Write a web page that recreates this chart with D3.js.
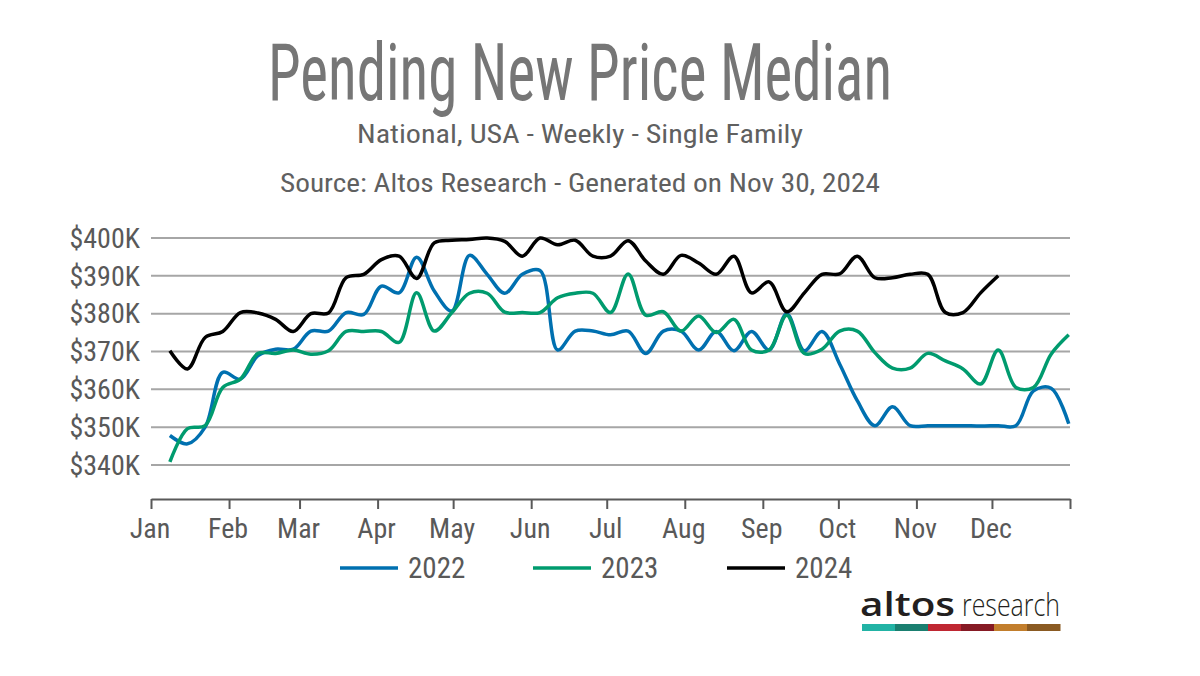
<!DOCTYPE html>
<html>
<head>
<meta charset="utf-8">
<script src="https://cdn.jsdelivr.net/npm/d3@7"></script>
<style>
  html, body { margin: 0; padding: 0; background: #fff; }
  svg { display: block; }
  .cond { font-family: "Liberation Sans Narrow", "Roboto Condensed", "DejaVu Sans Condensed", Roboto, sans-serif; font-stretch: condensed; }
</style>
</head>
<body>
<svg id="chart" width="1200" height="676"></svg>
<script>
// ---------- data ----------
const title = "Pending New Price Median";
const subtitle1 = "National, USA - Weekly - Single Family";
const subtitle2 = "Source: Altos Research - Generated on Nov 30, 2024";

const monthLabels = ["Jan","Feb","Mar","Apr","May","Jun","Jul","Aug","Sep","Oct","Nov","Dec"];
const monthStartDays = [0,31,59,90,120,151,181,212,243,273,304,334,365];

const yTicks = [340, 350, 360, 370, 380, 390, 400]; // $K

const seriesNames = ["2022", "2023", "2024"];
const seriesColors = ["#0070b0", "#009b6e", "#000000"];

// weekly values, $K (first week ~ Jan 8, then every 7 days)
const values2022 = [347.8,345.6,350.0,364.5,362.7,368.9,370.6,370.6,375.4,375.4,380.3,379.8,387.3,
  385.5,394.9,386.0,380.7,395.4,390.4,385.4,390.4,391.4,370.4,375.4,375.4,374.4,
  375.4,369.5,375.4,375.4,370.4,375.3,370.2,375.3,370.4,380.0,370.2,375.3,366.7,
  357.0,350.4,355.4,350.4,350.4,350.4,350.4,350.3,350.4,350.4,359.6,360.3,350.9];
const values2023 = [340.8,349.6,350.4,360.5,362.7,369.5,369.5,370.4,369.3,370.2,375.3,375.3,375.3,
  372.4,385.5,375.4,380.3,385.4,385.4,380.4,380.3,380.3,384.2,385.4,385.4,380.3,
  390.5,379.6,380.5,375.4,379.4,375.0,378.5,370.4,370.4,379.6,369.5,370.6,375.4,
  375.4,369.7,365.6,365.6,369.5,367.5,365.4,361.4,370.4,360.5,360.5,369.3,374.4];
const values2024 = [370.2,365.4,373.7,375.3,380.3,380.2,378.5,375.3,380.0,380.2,389.5,390.4,394.3,
  395.2,389.3,398.7,399.4,399.6,400.0,399.1,395.2,400.0,398.2,399.4,395.2,395.2,
  399.3,393.9,390.4,395.4,393.4,390.4,395.2,385.5,388.4,380.5,385.5,390.4,390.5,
  395.2,389.5,389.5,390.4,390.4,380.3,380.3,385.5,390.0];
const seriesValues = [values2022, values2023, values2024];

const firstWeekDay = 7.5;
const weekStep = 7;

const logoColors = ["#22b3a5", "#1a7f70", "#bf2732", "#861a24", "#c27e2c", "#8a5a22"];

// ---------- drawing ----------
const svg = d3.select("#chart");
const plotLeft = 151, plotRight = 1070, axisY = 499;

const x = d3.scaleLinear().domain([0, 365]).range([plotLeft, plotRight]);
const y = d3.scaleLinear().domain([340, 400]).range([465, 238]);

// Titles
svg.append("text").attr("class", "cond")
  .attr("x", 580).attr("y", 100).attr("text-anchor", "middle")
  .attr("font-size", 80).attr("fill", "#767676")
  .attr("textLength", 624).attr("lengthAdjust", "spacingAndGlyphs")
  .text(title);
svg.append("text").attr("class", "cond")
  .attr("x", 580).attr("y", 143).attr("text-anchor", "middle")
  .attr("font-size", 25).attr("fill", "#606060")
  .attr("textLength", 446).attr("lengthAdjust", "spacingAndGlyphs")
  .text(subtitle1);
svg.append("text").attr("class", "cond")
  .attr("x", 580).attr("y", 192).attr("text-anchor", "middle")
  .attr("font-size", 25).attr("fill", "#606060")
  .attr("textLength", 600).attr("lengthAdjust", "spacingAndGlyphs")
  .text(subtitle2);

// Gridlines
svg.append("g").selectAll("line").data(yTicks).join("line")
  .attr("x1", plotLeft).attr("x2", plotRight)
  .attr("y1", d => y(d)).attr("y2", d => y(d))
  .attr("stroke", "#a6a6a6").attr("stroke-width", 2);

// Y labels
svg.append("g").selectAll("text").data(yTicks).join("text")
  .attr("class", "cond")
  .attr("x", 140).attr("y", d => y(d)).attr("dy", "0.35em")
  .attr("text-anchor", "end").attr("font-size", 28).attr("fill", "#595959")
  .text(d => "$" + d + "K");

// X axis
const xAxis = d3.axisBottom(x).tickValues(monthStartDays).tickSize(10).tickSizeOuter(0).tickFormat("");
const gx = svg.append("g").attr("transform", `translate(0,${axisY})`).call(xAxis);
gx.select(".domain").attr("stroke", "#595959").attr("stroke-width", 2);
gx.selectAll(".tick line").attr("stroke", "#595959").attr("stroke-width", 2);

svg.append("g").selectAll("text").data(monthLabels).join("text")
  .attr("class", "cond")
  .attr("x", (d, i) => x(monthStartDays[i]) - 1).attr("y", 538)
  .attr("text-anchor", "middle").attr("font-size", 28).attr("fill", "#595959")
  .text(d => d);

// Lines
const line = d3.line()
  .x((d, i) => x(firstWeekDay + i * weekStep))
  .y(d => y(d))
  .curve(d3.curveCatmullRom.alpha(0.5));

svg.append("g").selectAll("path").data(seriesValues).join("path")
  .attr("d", d => line(d))
  .attr("fill", "none")
  .attr("stroke", (d, i) => seriesColors[i])
  .attr("stroke-width", 3.5)
  .attr("stroke-linejoin", "round")
  .attr("stroke-linecap", "butt");

// Legend
const legendX = [340, 533, 727];
const lg = svg.append("g").selectAll("g").data(seriesNames).join("g")
  .attr("transform", (d, i) => `translate(${legendX[i]},568)`);
lg.append("line").attr("x1", 0).attr("x2", 58).attr("y1", 0).attr("y2", 0)
  .attr("stroke", (d, i) => seriesColors[i]).attr("stroke-width", 3.5);
lg.append("text").attr("class", "cond")
  .attr("x", 68).attr("y", 0).attr("dy", "0.36em")
  .attr("font-size", 29).attr("fill", "#595959")
  .text(d => d);

// Logo
const logo = svg.append("g");
logo.append("text")
  .attr("x", 860).attr("y", 616)
  .attr("font-family", "'Open Sans', Lato, sans-serif").attr("font-weight", 600)
  .attr("font-size", 32).attr("fill", "#231f20")
  .attr("textLength", 95).attr("lengthAdjust", "spacingAndGlyphs")
  .text("altos");
logo.append("text")
  .attr("x", 962).attr("y", 616)
  .attr("font-family", "'Open Sans', Lato, sans-serif").attr("font-weight", 300)
  .attr("font-size", 32).attr("fill", "#231f20")
  .attr("textLength", 98).attr("lengthAdjust", "spacingAndGlyphs")
  .text("research");
const segW = (1060 - 862) / logoColors.length;
logo.selectAll("rect").data(logoColors).join("rect")
  .attr("x", (d, i) => 862 + i * segW).attr("y", 624)
  .attr("width", segW + 0.5).attr("height", 7)
  .attr("fill", d => d);
</script>
</body>
</html>
